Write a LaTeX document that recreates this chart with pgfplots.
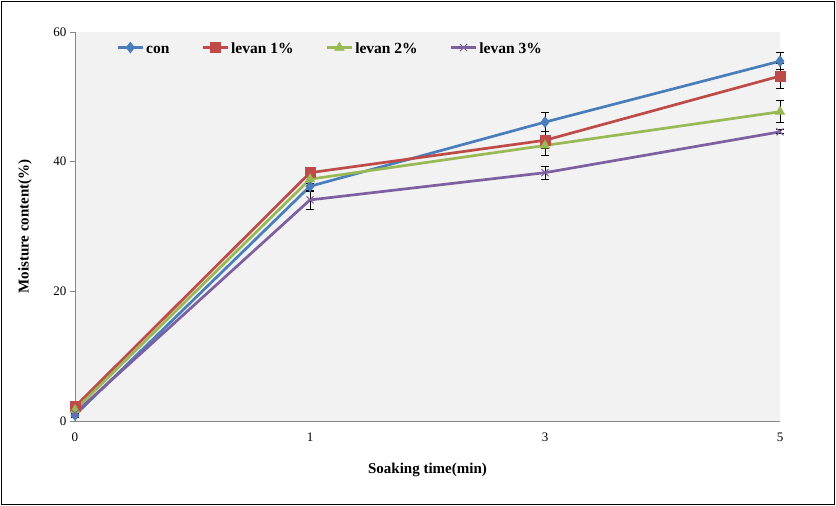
\documentclass[border=0pt]{standalone}
\usepackage{pgfplots}
\pgfplotsset{compat=1.18}
\usepackage{fontspec}
\setmainfont{Liberation Serif}
\definecolor{cblue}{HTML}{4A7EBB}
\definecolor{cred}{HTML}{BE4B48}
\definecolor{cgreen}{HTML}{98B954}
\definecolor{cpurple}{HTML}{7D60A0}
\definecolor{bggray}{HTML}{F2F2F2}
\definecolor{axgray}{HTML}{868686}
\begin{document}
\begin{tikzpicture}[x=1pt,y=1pt]
\useasboundingbox (0,0) rectangle (836,506);
\draw[black, line width=1.3pt] (1.5,1.5) rectangle (834.5,504.5);
\begin{axis}[
  at={(75pt,85pt)}, anchor=south west,
  width=705pt, height=389pt, scale only axis,
  clip=false,
  xmin=0, xmax=3, ymin=0, ymax=60,
  xtick={0,1,2,3}, xticklabels={0,1,3,5},
  ytick={0,20,40,60},
  axis x line*=bottom, axis y line*=left,
  axis line style={draw=axgray, line width=0.8pt},
  axis background/.style={fill=bggray},
  xtick style={draw=none},
  ytick style={draw=axgray, line width=0.8pt},
  tick align=outside, major tick length=5pt,
  /pgf/number format/assume math mode=true,
  tick label style={font=\fontsize{13}{15}\selectfont},
  xticklabel style={yshift=-3pt},
  xlabel={Soaking time(min)},
  ylabel={Moisture content(\%)},
  label style={font=\fontsize{15}{18}\selectfont\bfseries},
  xlabel style={at={(axis description cs:0.5,-0.126)}, anchor=center},
  ylabel style={at={(axis description cs:-0.071,0.5)}, anchor=center},
  every axis plot/.append style={line width=2.7pt},
  error bars/y dir=both, error bars/y explicit,
  error bars/error bar style={black, line width=0.9pt},
  error bars/error mark options={black, rotate=90, mark size=4pt, line width=0.9pt},
  legend columns=4,
  legend style={at={(axis cs:0.163,57.6)}, anchor=west, draw=none, fill=none,
    font=\fontsize{15.5}{18}\selectfont\bfseries,
    /tikz/every even column/.append style={column sep=30pt}},
  legend image code/.code={\draw[mark repeat=2, mark phase=2] plot coordinates {(0pt,0pt) (12.5pt,0pt) (25pt,0pt)};},
]
\addplot[cblue, mark=diamond*, mark size=5.5pt, mark options={line width=0.5pt}]
  coordinates {(0,0.9) +- (0,0.3) (1,36.2) +- (0,0.8) (2,46.1) +- (0,1.5) (3,55.5) +- (0,1.3)};
\addlegendentry{\strut con}
\addplot[cred, mark=square*, mark size=5pt, mark options={line width=0.5pt}]
  coordinates {(0,2.2) +- (0,0.2) (1,38.3) +- (0,0.5) (2,43.3) +- (0,1.3) (3,53.2) +- (0,1.9)};
\addlegendentry{\strut levan 1\%}
\addplot[cgreen, mark=triangle*, mark size=5.5pt, mark options={line width=0.5pt}]
  coordinates {(0,1.7) +- (0,0.2) (1,37.3) +- (0,0.7) (2,42.5) +- (0,1.6) (3,47.7) +- (0,1.7)};
\addlegendentry{\strut levan 2\%}
\addplot[cpurple, mark=x, mark size=5pt, mark options={line width=1pt}]
  coordinates {(0,1.2) +- (0,0.2) (1,34.1) +- (0,1.4) (2,38.3) +- (0,1.0) (3,44.6) +- (0,0.3)};
\addlegendentry{\strut levan 3\%}
\end{axis}
\end{tikzpicture}
\end{document}
